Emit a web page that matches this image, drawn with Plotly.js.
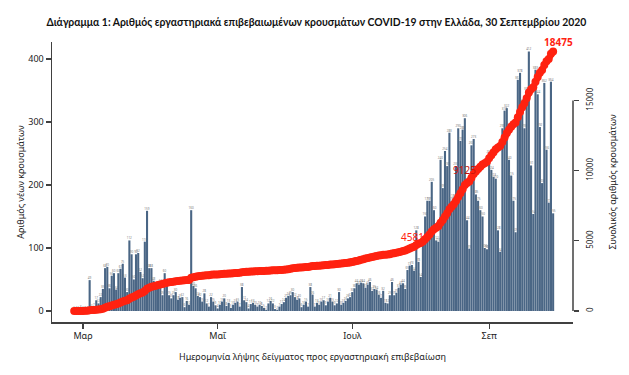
<!DOCTYPE html>
<html><head><meta charset="utf-8">
<script src="https://cdn.plot.ly/plotly-3.0.1.min.js"></script>
<style>html,body{margin:0;padding:0;background:#fff}</style>
</head><body>
<div id="chart" style="width:629px;height:375px"></div>
<script>
// First day of the series (sample date), one bar per day up to 30 Sep 2020
const startDate = [2020, 1, 26];

// New laboratory-confirmed cases per sample date (26 Feb – 30 Sep 2020)
const dailyCases = [
  1,2,1,3,2,2,2,49,4,7,17,12,22,35,68,70,36,56,60,34,60,67,75,53,30,
  112,90,50,90,92,62,52,110,159,68,68,48,35,42,44,25,60,43,25,20,25,30,18,21,22,6,16,10,
  160,40,36,24,22,15,28,12,7,22,15,9,
  4,10,15,20,8,13,5,10,13,15,7,38,17,14,4,11,13,10,7,10,8,5,2,12,16,12,3,2,7,11,14,
  21,24,25,30,22,18,20,6,10,15,7,38,26,7,13,10,15,17,9,15,21,15,9,12,30,10,13,16,20,22,
  30,36,44,42,45,44,37,42,46,32,35,34,26,21,32,13,12,25,46,25,29,37,42,44,35,65,72,73,64,
  128,78,54,
  112,150,175,175,205,160,112,110,240,195,254,230,283,175,180,230,290,270,288,306,144,99,263,273,185,175,160,150,100,98,
  250,224,213,210,128,94,290,318,322,240,215,175,125,367,378,330,290,350,412,231,154,383,344,292,203,362,256,172,364,155
];

// Tick labels
const monthTickDates = ['2020-03-01','2020-05-01','2020-07-01','2020-09-01'];
const monthTickLabels = ['Μαρ','Μαΐ','Ιουλ','Σεπ'];
const leftTicks = [0,100,200,300,400];
const rightTicks = [0,5000,10000,15000];
const rightTickLabels = ['0','5000','10000','15000'];
// Points of the cumulative line that carry a value label
const labelledDates = ['2020-07-29','2020-08-22','2020-09-30'];

// Derived: dates and running total
const dates = dailyCases.map((_, i) =>
  new Date(Date.UTC(startDate[0], startDate[1], startDate[2]) + i * 86400000).toISOString().slice(0, 10));
const cumulative = [];
dailyCases.reduce((s, v) => { s += v; cumulative.push(s); return s; }, 0);

const barColor = '#4a6685';
const redColor = '#ff2210';
const axisColor = '#404040';
const textFont = 'Noto Sans, Open Sans, sans-serif';

const bars = {
  type: 'bar', x: dates, y: dailyCases,
  marker: { color: barColor, line: { width: 0 } },
  text: dailyCases.map(String), textposition: 'outside', textangle: 0,
  constraintext: 'none', cliponaxis: false,
  textfont: { size: 3, color: '#777', family: textFont },
  hoverinfo: 'x+y'
};
const line = {
  type: 'scatter', mode: 'lines+markers', x: dates, y: cumulative, yaxis: 'y2',
  line: { color: redColor, width: 6 },
  marker: { color: redColor, size: 8 },
  hoverinfo: 'x+y'
};

const labelShift = [[-2, 10], [-3, 13], [5, 10]];
const annotations = labelledDates.map((d, k) => {
  const i = dates.indexOf(d);
  return {
    x: d, y: cumulative[i], xref: 'x', yref: 'y2', showarrow: false,
    text: k === labelledDates.length - 1 ? '<b>' + cumulative[i] + '</b>' : String(cumulative[i]),
    font: { family: textFont, size: 10, color: k === 1 ? '#c8140a' : redColor },
    xshift: labelShift[k][0], yshift: labelShift[k][1]
  };
});

const layout = {
  width: 629, height: 375,
  margin: { l: 52, r: 56, t: 42, b: 53 },
  paper_bgcolor: '#fff', plot_bgcolor: '#fff',
  showlegend: false, bargap: 0.05,
  title: {
    text: '<b>Διάγραμμα 1: Αριθμός εργαστηριακά επιβεβαιωμένων κρουσμάτων COVID-19 στην Ελλάδα, 30 Σεπτεμβρίου 2020</b>',
    font: { family: 'Lato, Roboto, sans-serif', size: 10.4, color: '#111' },
    x: 0.503, xref: 'container', xanchor: 'center', y: 1 - 22 / 375, yref: 'container', yanchor: 'middle'
  },
  xaxis: {
    type: 'date', range: ['2020-02-15 22:34', '2020-10-09 00:00'],
    tickvals: monthTickDates, ticktext: monthTickLabels,
    ticks: 'outside', ticklen: 5, tickwidth: 1.2, tickcolor: axisColor,
    showline: true, linecolor: axisColor, linewidth: 1.5,
    showgrid: false, zeroline: false,
    tickfont: { family: textFont, size: 9, color: '#222' },
    title: { text: 'Ημερομηνία λήψης δείγματος προς εργαστηριακή επιβεβαίωση',
             font: { family: textFont, size: 9, color: '#222' }, standoff: 12 }
  },
  yaxis: {
    range: [-17.5, 427], tickvals: leftTicks,
    ticks: 'outside', ticklen: 5, tickwidth: 1.2, tickcolor: axisColor,
    showline: true, linecolor: axisColor, linewidth: 1.5,
    showgrid: false, zeroline: false,
    tickfont: { family: textFont, size: 9, color: '#222' },
    title: { text: 'Αριθμός νέων κρουσμάτων', font: { family: textFont, size: 9, color: '#222' }, standoff: 2 }
  },
  yaxis2: {
    overlaying: 'y', side: 'right', range: [-783, 19160],
    tickvals: rightTicks, ticktext: rightTickLabels,
    tickangle: -90, ticks: 'outside', ticklen: 5, tickwidth: 1.2, tickcolor: axisColor,
    ticklabelstandoff: 4,
    showline: false, showgrid: false, zeroline: false,
    tickfont: { family: textFont, size: 8, color: '#222' },
    title: { text: 'Συνολικός αριθμός κρουσμάτων', font: { family: textFont, size: 9, color: '#222' }, standoff: 16 }
  },
  shapes: [{
    type: 'line', xref: 'paper', x0: 1, x1: 1, yref: 'y2', y0: rightTicks[0], y1: rightTicks[rightTicks.length - 1],
    line: { color: axisColor, width: 1.5 }
  }],
  annotations: annotations
};

Plotly.newPlot('chart', [bars, line], layout, { displayModeBar: false, staticPlot: true });
</script>
</body></html>
